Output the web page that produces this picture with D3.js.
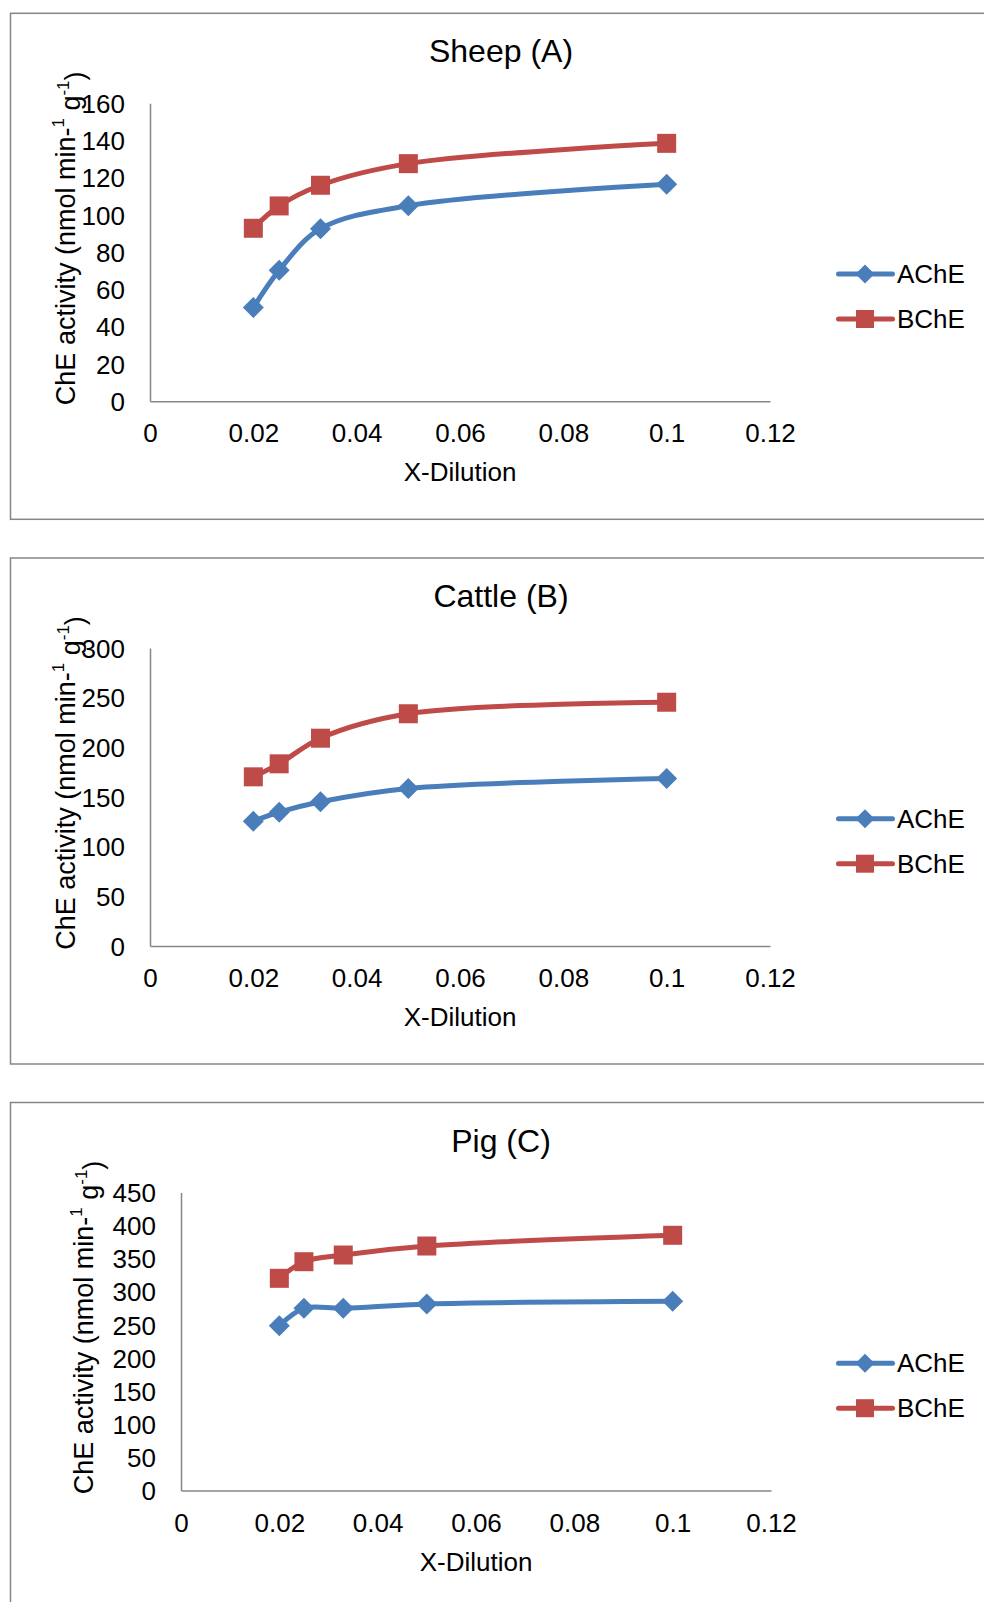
<!DOCTYPE html>
<html>
<head>
<meta charset="utf-8">
<script src="https://cdn.jsdelivr.net/npm/d3@7"></script>
<style>
  html, body { margin: 0; padding: 0; background: #fff; }
  svg { display: block; }
  text { font-family: "Liberation Sans", Arial, sans-serif; fill: #000; }
</style>
</head>
<body>
<script>
// ---- data ----
const xDilution = [0.02, 0.025, 0.033, 0.05, 0.1];
const xTicks = [0, 0.02, 0.04, 0.06, 0.08, 0.1, 0.12];

const sheepAChE = [50.3, 70.3, 92.7, 105.0, 116.5];
const sheepBChE = [92.9, 104.9, 116.0, 127.6, 138.5];
const sheepYTicks = [0, 20, 40, 60, 80, 100, 120, 140, 160];

const cattleAChE = [125.6, 134.7, 145.2, 158.6, 168.6];
const cattleBChE = [170.3, 183.4, 209.2, 233.8, 245.4];
const cattleYTicks = [0, 50, 100, 150, 200, 250, 300];

const pigAChE = [248.9, 275.1, 275.1, 281.6, 285.7];
const pigBChE = [320.4, 345.5, 355.6, 369.2, 385.4];
const pigYTicks = [0, 50, 100, 150, 200, 250, 300, 350, 400, 450];

const seriesNames = ["AChE", "BChE"];
const titles = ["Sheep (A)", "Cattle (B)", "Pig (C)"];
const xLabel = "X-Dilution";

// ---- layout ----
const W = 984, H = 1602;
const colors = { AChE: "#4A7EBB", BChE: "#BE4B48" };
const panels = [
  { title: titles[0], a: sheepAChE, b: sheepBChE, yTicks: sheepYTicks, top: 13.3, left: 150, right: 770, yLabelX: 66 },
  { title: titles[1], a: cattleAChE, b: cattleBChE, yTicks: cattleYTicks, top: 558, left: 150, right: 770, yLabelX: 66 },
  { title: titles[2], a: pigAChE, b: pigBChE, yTicks: pigYTicks, top: 1102.5, left: 181, right: 771, yLabelX: 84 }
];

const svg = d3.select("body").append("svg").attr("width", W).attr("height", H);

panels.forEach(p => {
  const g = svg.append("g").attr("transform", `translate(0,${p.top})`);
  // border
  g.append("rect").attr("x", 10.5).attr("y", 0).attr("width", 1000).attr("height", 506)
    .attr("fill", "none").attr("stroke", "#868686").attr("stroke-width", 1.5);

  const plotTop = 90, plotBottom = 388;
  const x = d3.scaleLinear().domain([0, 0.12]).range([p.left, p.right]);
  const y = d3.scaleLinear().domain([0, p.yTicks[p.yTicks.length - 1]]).range([plotBottom, plotTop]);

  // title
  g.append("text").attr("x", 501).attr("y", 38).attr("text-anchor", "middle")
    .attr("dominant-baseline", "central").style("font-size", "32px").text(p.title);

  // axes
  const xAxis = d3.axisBottom(x).tickValues(xTicks).tickSize(0).tickPadding(0)
    .tickFormat(d => d3.format("")(+d.toFixed(2)));
  const gx = g.append("g").attr("transform", `translate(0,${plotBottom})`).call(xAxis);
  gx.select(".domain").attr("stroke", "#868686").attr("stroke-width", 1.5);
  gx.selectAll("text").attr("y", 32).attr("dy", "0.35em").style("font-size", "26px")
    .style("font-family", '"Liberation Sans", Arial, sans-serif').attr("fill", "#000");

  const yAxis = d3.axisLeft(y).tickValues(p.yTicks).tickSize(0).tickPadding(0);
  const gy = g.append("g").attr("transform", `translate(${p.left},0)`).call(yAxis);
  gy.select(".domain").attr("stroke", "#868686").attr("stroke-width", 1.5);
  gy.selectAll("text").attr("x", -25).attr("dy", "0.35em").style("font-size", "26px")
    .style("font-family", '"Liberation Sans", Arial, sans-serif').attr("fill", "#000");

  // x label
  g.append("text").attr("x", (p.left + p.right) / 2).attr("y", 459).attr("text-anchor", "middle")
    .attr("dominant-baseline", "central").style("font-size", "26px").text(xLabel);

  // y label
  const yl = g.append("text").attr("transform", `translate(${p.yLabelX},${(plotTop + plotBottom) / 2 - 14}) rotate(-90)`)
    .attr("text-anchor", "middle").attr("dominant-baseline", "central").style("font-size", "27px");
  yl.append("tspan").text("ChE activity  (nmol min-");
  yl.append("tspan").attr("dy", "-0.45em").style("font-size", "17px").text("1");
  yl.append("tspan").attr("dy", "0.45em").text(" g");
  yl.append("tspan").attr("dy", "-0.45em").style("font-size", "17px").text("-1");
  yl.append("tspan").attr("dy", "0.45em").text(")");

  const line = d3.line().x(d => x(d[0])).y(d => y(d[1])).curve(d3.curveCatmullRom.alpha(0.5));
  const drawSeries = (vals, name) => {
    const pts = xDilution.map((xv, i) => [xv, vals[i]]);
    g.append("path").datum(pts).attr("d", line).attr("fill", "none")
      .attr("stroke", colors[name]).attr("stroke-width", 5).attr("stroke-linejoin", "round");
    if (name === "AChE") {
      g.selectAll(null).data(pts).enter().append("path")
        .attr("transform", d => `translate(${x(d[0])},${y(d[1])})`)
        .attr("d", "M0,-10.5L10.5,0L0,10.5L-10.5,0Z").attr("fill", colors[name]);
    } else {
      g.selectAll(null).data(pts).enter().append("rect")
        .attr("x", d => x(d[0]) - 9.5).attr("y", d => y(d[1]) - 9.5)
        .attr("width", 19).attr("height", 19).attr("fill", colors[name]);
    }
  };
  drawSeries(p.a, "AChE");
  drawSeries(p.b, "BChE");

  // legend
  seriesNames.forEach((name, i) => {
    const ly = 260.7 + i * 45;
    g.append("line").attr("x1", 838.5).attr("x2", 892.5).attr("y1", ly).attr("y2", ly)
      .attr("stroke", colors[name]).attr("stroke-width", 5).attr("stroke-linecap", "round");
    if (name === "AChE") {
      g.append("path").attr("transform", `translate(865,${ly})`)
        .attr("d", "M0,-9.5L9.5,0L0,9.5L-9.5,0Z").attr("fill", colors[name]);
    } else {
      g.append("rect").attr("x", 865 - 9).attr("y", ly - 9).attr("width", 18).attr("height", 18)
        .attr("fill", colors[name]);
    }
    g.append("text").attr("x", 897).attr("y", ly).attr("dominant-baseline", "central")
      .style("font-size", "26px").text(name);
  });
});
</script>
</body>
</html>
